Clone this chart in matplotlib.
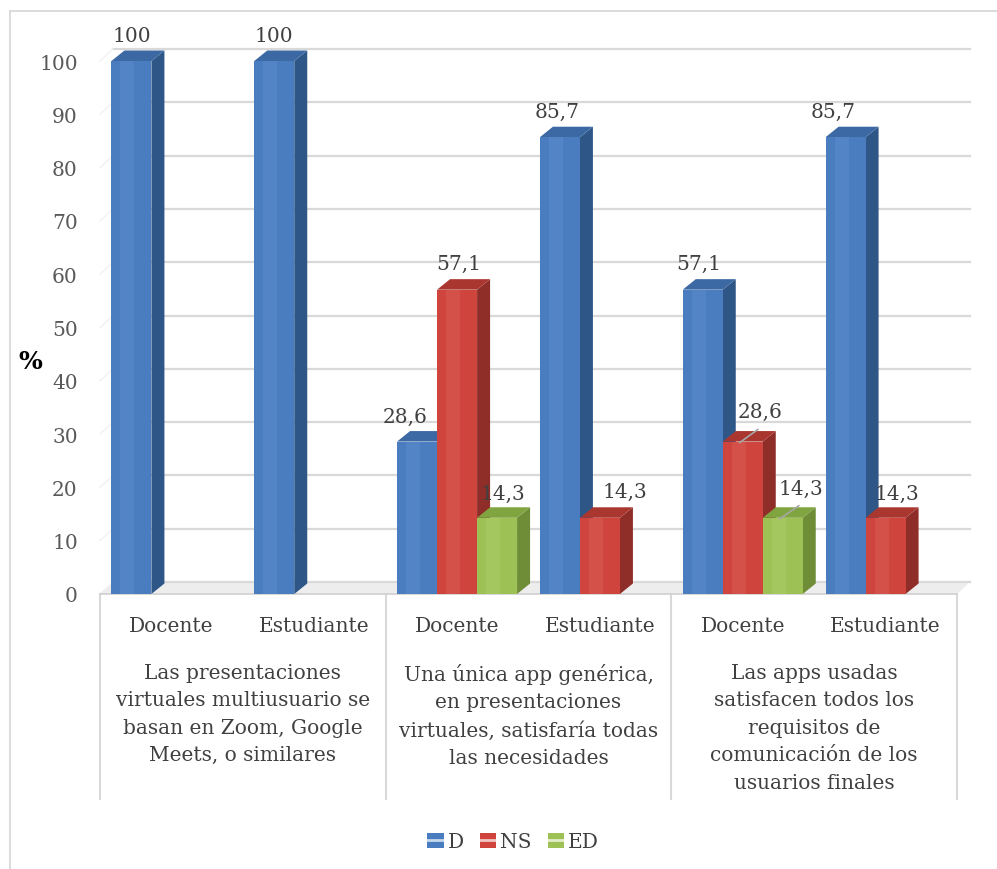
import matplotlib
matplotlib.use("Agg")
import matplotlib.pyplot as plt
from matplotlib.patches import Polygon, Patch
from matplotlib.lines import Line2D

# ---------------- data ----------------
groups = [
    "Las presentaciones\nvirtuales multiusuario se\nbasan en Zoom, Google\nMeets, o similares",
    "Una única app genérica,\nen presentaciones\nvirtuales, satisfaría todas\nlas necesidades",
    "Las apps usadas\nsatisfacen todos los\nrequisitos de\ncomunicación de los\nusuarios finales",
]
subgroups = ["Docente", "Estudiante"]
series = ["D", "NS", "ED"]
D_vals = [100, 100, 28.6, 85.7, 57.1, 85.7]
NS_vals = [0, 0, 57.1, 14.3, 28.6, 14.3]
ED_vals = [0, 0, 14.3, 0, 14.3, 0]
y_ticks = [0, 10, 20, 30, 40, 50, 60, 70, 80, 90, 100]

# ---------------- style ----------------
FONT = "DejaVu Serif"
plt.rcParams["font.family"] = [FONT, "DejaVu Sans"]
front_c = {"D": "#4A7DC0", "NS": "#CF453E", "ED": "#9DC154"}
side_c = {"D": "#2E5687", "NS": "#8F2D29", "ED": "#6E8D36"}
top_c = {"D": "#3C69A3", "NS": "#A9372F", "ED": "#80A43F"}
light_c = {"D": "#6593D0", "NS": "#E06A5F", "ED": "#B4D474"}

# label nudges in pixels (dx right, dy down) relative to top-centre of bar front
label_nudge = {
    (0, "D"): (0, -26), (1, "D"): (0, -26),
    (2, "D"): (-12, -25), (2, "NS"): (2, -26), (2, "ED"): (6, -24),
    (3, "D"): (-3, -26), (3, "NS"): (25, -26),
    (4, "D"): (-4, -26), (4, "NS"): (17, -30), (4, "ED"): (18, -29),
    (5, "D"): (-12, -26), (5, "NS"): (11, -24),
}
leader = {(4, "NS"), (4, "ED")}

W, H = 997, 870
fig = plt.figure(figsize=(W / 100, H / 100), dpi=100)
ax_l, ax_r = 100, 957
y0_px = 595
ppy = 5.33
ymax = 105
ytop_px = y0_px - ymax * ppy
ax = fig.add_axes([ax_l / W, (H - y0_px) / H, (ax_r - ax_l) / W, (y0_px - ytop_px) / H])
nsub = len(subgroups) * len(groups)
ax.set_xlim(0, nsub)
ax.set_ylim(0, ymax)
ppx = (ax_r - ax_l) / nsub

for s in ax.spines.values():
    s.set_visible(False)
ax.set_xticks([])
ax.set_yticks(y_ticks)
ax.set_yticklabels([str(t) for t in y_ticks], fontsize=14.5, color="#595959", family=FONT)
ax.tick_params(axis="y", length=0, pad=16)

# back wall offset & bar depth (converted from pixels to data units)
wdx, wdy = 13 / ppx, 12 / ppy
bdx, bdy = 13 / ppx, 10.5 / ppy

# floor
ax.add_patch(Polygon([(0, 0), (nsub, 0), (nsub + wdx, wdy), (wdx, wdy)],
                     closed=True, facecolor="#EDEDED", edgecolor="none", zorder=1, clip_on=False))
ax.plot([0, nsub], [0, 0], color="#D0D0D0", lw=1.2, zorder=1.5, clip_on=False)
# back wall gridlines
for t in y_ticks:
    ax.plot([wdx, nsub + wdx], [t + wdy, t + wdy], color="#D9D9D9", lw=1.6, zorder=1, clip_on=False)
    ax.plot([0, wdx], [t, t + wdy], color="#F1F1F1", lw=1.0, zorder=1, clip_on=False)

# bars
bw = 40 / ppx
vals = {"D": D_vals, "NS": NS_vals, "ED": ED_vals}
offs = {"D": -1, "NS": 0, "ED": 1}
z = 2
for i in range(nsub):
    for s in series:
        v = vals[s][i]
        if v <= 0:
            continue
        xc = i + 0.5 + offs[s] * bw
        x0, x1 = xc - bw / 2, xc + bw / 2
        ax.add_patch(Polygon([(x1, 0), (x1, v), (x1 + bdx, v + bdy), (x1 + bdx, bdy)],
                             closed=True, facecolor=side_c[s], edgecolor="none", zorder=z))
        ax.add_patch(Polygon([(x0, v), (x1, v), (x1 + bdx, v + bdy), (x0 + bdx, v + bdy)],
                             closed=True, facecolor=top_c[s], edgecolor="none", zorder=z))
        ax.bar(xc, v, width=bw, color=front_c[s], edgecolor="none", zorder=z + 0.1)
        ax.bar(xc - bw * 0.1, v, width=bw * 0.35, color=light_c[s], alpha=0.35,
               edgecolor="none", zorder=z + 0.2)
        z += 1

# value labels
for i in range(nsub):
    for s in series:
        v = vals[s][i]
        if v <= 0:
            continue
        xc = i + 0.5 + offs[s] * bw
        dx, dy = label_nudge[(i, s)]
        lx, ly = xc + dx / ppx, v - dy / ppy
        txt = ("%.1f" % v).replace(".", ",") if v != int(v) else str(int(v))
        ax.text(lx, ly, txt, ha="center", va="center", fontsize=14.5, color="#404040",
                family=FONT, zorder=100, clip_on=False)
        if (i, s) in leader:
            ax.plot([xc - 3 / ppx, lx - 2 / ppx], [v - 1 / ppy, v + 12 / ppy],
                    color="#A6A6A6", lw=1.2, zorder=100, clip_on=False)

# category axis labels
sub_y = -(627 - y0_px) / ppy
for i in range(nsub):
    ax.text(i + 0.5, sub_y, subgroups[i % len(subgroups)], ha="center", va="center",
            fontsize=14.5, color="#404040", family=FONT, clip_on=False)
grp_top = -(664 - y0_px) / ppy
for g, name in enumerate(groups):
    ax.text(2 * g + 1, grp_top, name, ha="center", va="top", fontsize=14.5,
            color="#404040", family=FONT, linespacing=1.56, clip_on=False)
line_bottom = -(800 - y0_px) / ppy
for g in range(len(groups) + 1):
    ax.plot([2 * g, 2 * g], [0, line_bottom], color="#D9D9D9", lw=1.5, clip_on=False, zorder=1)

# y-axis title
fig.text(30 / W, 1 - 362 / H, "%", ha="center", va="center", fontsize=18,
         fontweight="bold", color="black", family=FONT)

# legend
handles = [(Patch(facecolor=front_c[s], edgecolor="none"),
            Line2D([], [], color="white", lw=2, alpha=0.7)) for s in series]
fig.legend(handles, series, loc="center", bbox_to_anchor=(513 / W, 1 - 843 / H),
           ncol=3, frameon=False, handlelength=0.8, handleheight=0.8,
           handletextpad=0.2, columnspacing=0.8, prop={"family": FONT, "size": 14.5},
           labelcolor="#404040")

# outer chart border (top & left)
fig.add_artist(Line2D([10 / W, 1], [1 - 12 / H, 1 - 12 / H], color="#D9D9D9", lw=1.3))
fig.add_artist(Line2D([10 / W, 10 / W], [0, 1 - 12 / H], color="#D9D9D9", lw=1.3))

fig.savefig("out.png", dpi=100)
